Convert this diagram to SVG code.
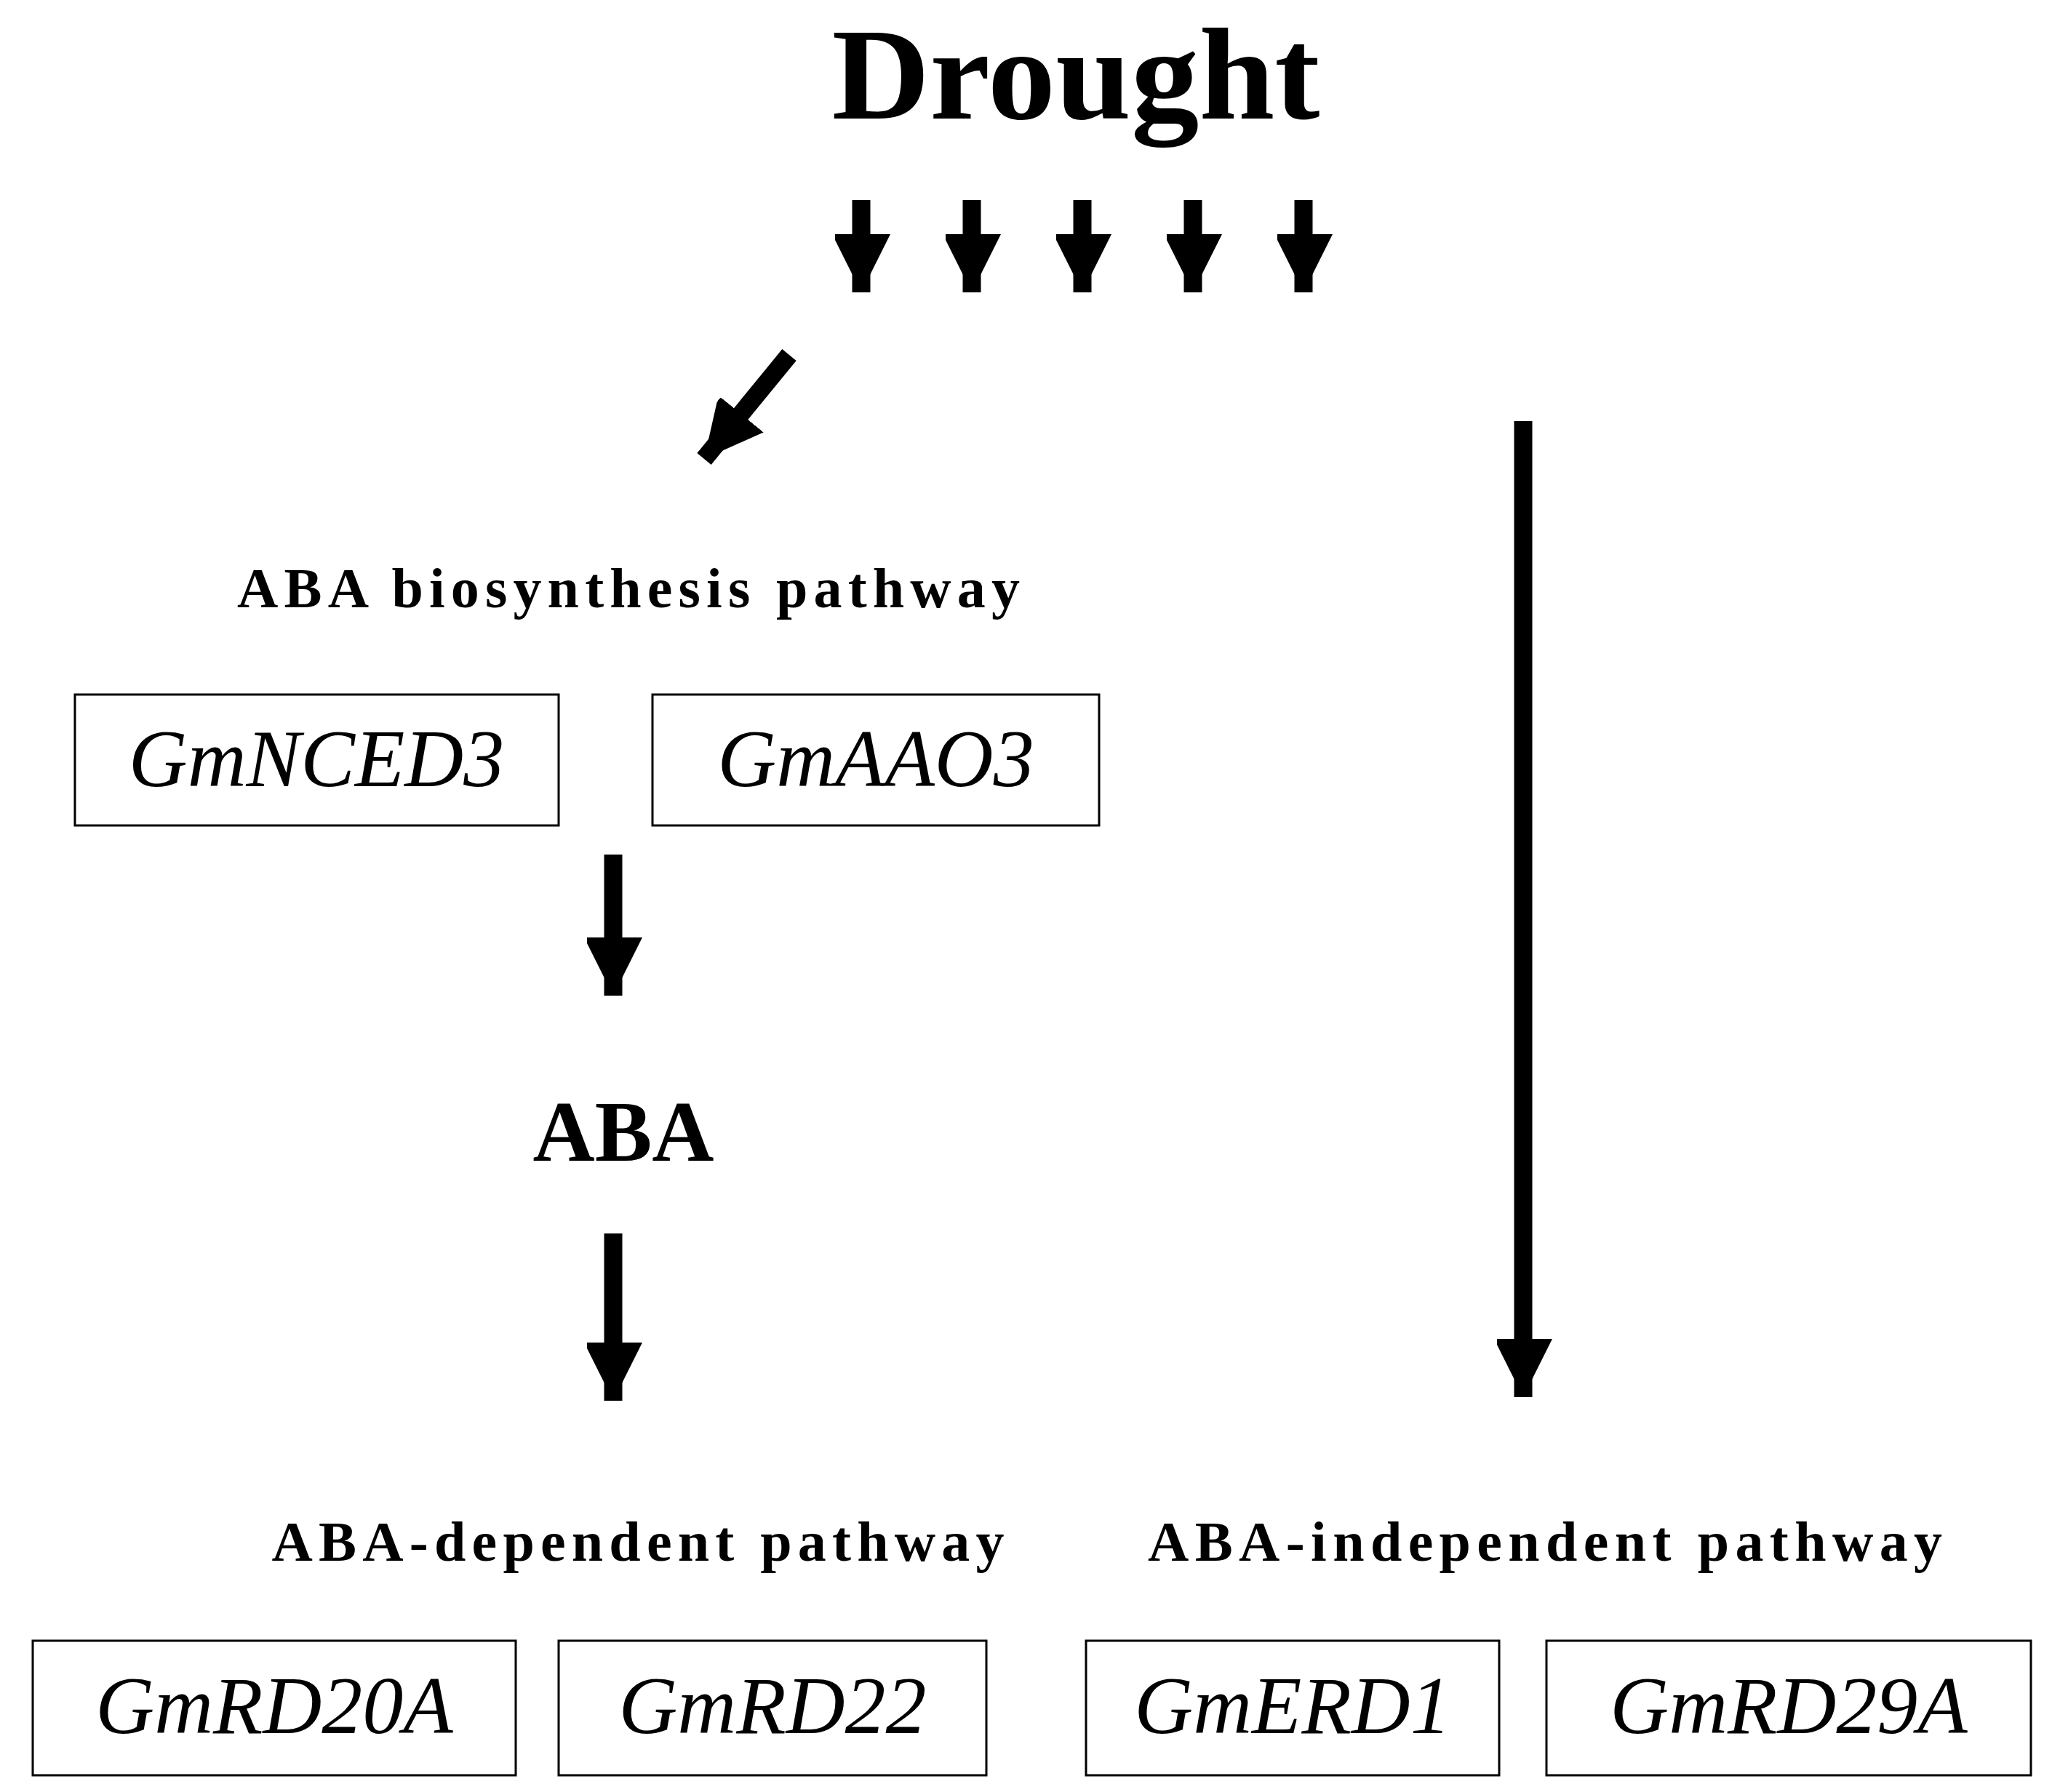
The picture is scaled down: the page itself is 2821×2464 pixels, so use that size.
<svg xmlns="http://www.w3.org/2000/svg" width="2821" height="2464" viewBox="0 0 2821 2464">
<style>
.t{font-family:"Liberation Serif","DejaVu Serif",serif;font-weight:bold;fill:#000;text-anchor:middle}
.g{font-family:"Liberation Serif","DejaVu Serif",serif;font-style:italic;font-size:112px;fill:#000;text-anchor:middle}
.b{fill:#fff;stroke:#000;stroke-width:3}
</style>
<defs>
<marker id="ah" markerUnits="userSpaceOnUse" markerWidth="80" markerHeight="80" viewBox="0 0 80 72" refX="80" refY="40" orient="auto">
<path d="M0,0 L80,40 L0,80 Z" fill="#000"/>
</marker>
</defs>
<rect width="2821" height="2464" fill="#fff"/>
<g id="drought"><text class="t" x="1479" y="163" font-size="180" textLength="671" lengthAdjust="spacingAndGlyphs">Drought</text></g>
<g id="connectors" stroke="#000" stroke-width="25" fill="none">
<line x1="1184" y1="275" x2="1184" y2="402" marker-end="url(#ah)"/>
<line x1="1336" y1="275" x2="1336" y2="402" marker-end="url(#ah)"/>
<line x1="1488" y1="275" x2="1488" y2="402" marker-end="url(#ah)"/>
<line x1="1640" y1="275" x2="1640" y2="402" marker-end="url(#ah)"/>
<line x1="1792" y1="275" x2="1792" y2="402" marker-end="url(#ah)"/>
<line x1="1085" y1="488" x2="968" y2="631" marker-end="url(#ah)"/>
<line x1="2094" y1="579" x2="2094" y2="1921" marker-end="url(#ah)"/>
<line x1="843" y1="1175" x2="843" y2="1369" marker-end="url(#ah)"/>
<line x1="843" y1="1696" x2="843" y2="1926" marker-end="url(#ah)"/>
</g>
<g id="label-bio"><text class="t" x="864" y="835" font-size="78" textLength="1076" lengthAdjust="spacing">ABA biosynthesis pathway</text></g>
<g id="nced3"><rect class="b" x="103" y="955" width="665" height="180"/><text class="g" x="435" y="1081">GmNCED3</text></g>
<g id="aao3"><rect class="b" x="897" y="955" width="614" height="180"/><text class="g" x="1204" y="1081">GmAAO3</text></g>
<g id="aba"><text class="t" x="857" y="1596" font-size="118">ABA</text></g>
<g id="label-dep"><text class="t" x="877" y="2146" font-size="78" textLength="1007" lengthAdjust="spacing">ABA-dependent pathway</text></g>
<g id="label-indep"><text class="t" x="2124" y="2146" font-size="78" textLength="1092" lengthAdjust="spacing">ABA-independent pathway</text></g>
<g id="rd20a"><rect class="b" x="45" y="2256" width="664" height="185"/><text class="g" x="377" y="2383">GmRD20A</text></g>
<g id="rd22"><rect class="b" x="768" y="2256" width="588" height="185"/><text class="g" x="1062" y="2383">GmRD22</text></g>
<g id="erd1"><rect class="b" x="1493" y="2256" width="568" height="185"/><text class="g" x="1777" y="2383">GmERD1</text></g>
<g id="rd29a"><rect class="b" x="2126" y="2256" width="666" height="185"/><text class="g" x="2459" y="2383">GmRD29A</text></g>
</svg>
